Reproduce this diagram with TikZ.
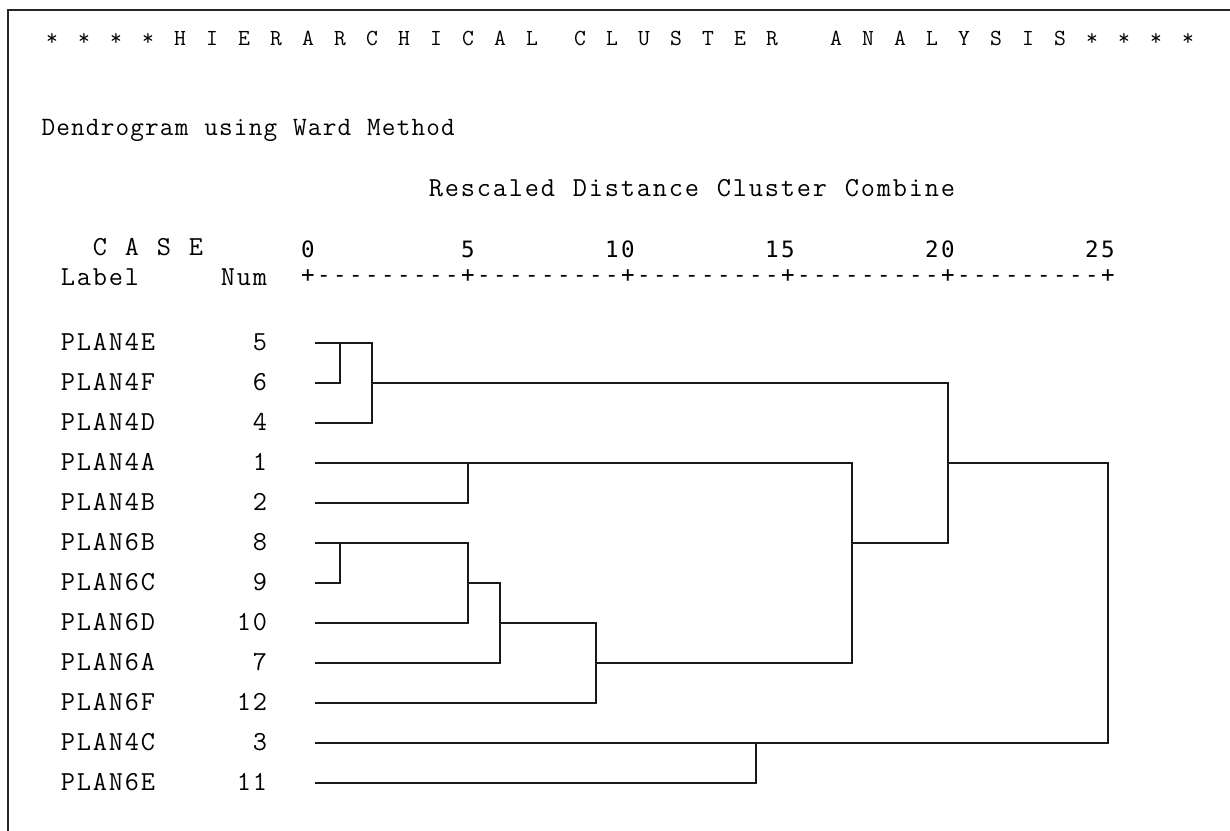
\documentclass[tikz,border=0pt]{standalone}
\usepackage{fontspec}
\newfontfamily\dvmono{DejaVu Sans Mono}
\ExplSyntaxOn
\cs_new_protected:Npn \mypitch_do:nn #1#2
 {
  \str_map_inline:nn {#2}
   {
    \str_if_eq:nnTF {##1}{|}
     { \makebox[#1]{} }
     { \makebox[#1][c]{##1} }
   }
 }
\cs_generate_variant:Nn \mypitch_do:nn {ne}
\NewDocumentCommand\pitched{O{16pt}m}{\mypitch_do:ne{#1}{#2}}
\ExplSyntaxOff
\begin{document}
\begin{tikzpicture}[x=1pt,y=-1pt,
  txt/.style={inner sep=0pt, outer sep=0pt},
  mono/.style={txt, font=\ttfamily\fontsize{27.5pt}{30pt}\selectfont},
  lbl/.style={mono, anchor=base west},
  numr/.style={mono, anchor=base east},
  titlef/.style={txt, anchor=base west, font=\ttfamily\fontsize{23pt}{24pt}\selectfont},
  dendf/.style={txt, anchor=base west, font=\ttfamily\fontsize{26.5pt}{28pt}\selectfont},
  scalef/.style={txt, font=\dvmono\fontsize{22.5pt}{26pt}\selectfont},
  frameline/.style={line width=2pt, black!85},
  link/.style={line width=2pt, line cap=rect, line join=miter, black!90}]
\useasboundingbox (0,0) rectangle (1230,830);
\fill[white] (0,0) rectangle (1230,830);
\draw[frameline] (8,840) -- (8,10) -- (1240,10);

% headings
\node[titlef] (title) at (44,45) {\pitched{* * * * H I E R A R C H I C A L| C L U S T E R|| A N A L Y S I S * * * *}};
\node[dendf] (dend) at (41,135) {\pitched[14.8pt]{Dendrogram using Ward Method}};
\node[lbl] (resc) at (428,196) {\pitched{Rescaled Distance Cluster Combine}};
\node[lbl] (case) at (92,255) {\pitched{C A S E}};
\node[lbl] (label) at (60,285) {\pitched{Label}};
\node[lbl] (numh) at (220,285) {\pitched{Num}};

% scale
\node[scalef, anchor=base east] (s0) at (316,257) {\pitched{0}};
\node[scalef, anchor=base east] (s5) at (476,257) {\pitched{5}};
\node[scalef, anchor=base east] (s10) at (636,257) {\pitched{10}};
\node[scalef, anchor=base east] (s15) at (796,257) {\pitched{15}};
\node[scalef, anchor=base east] (s20) at (956,257) {\pitched{20}};
\node[scalef, anchor=base east] (s25) at (1116,257) {\pitched{25}};
\node[scalef, anchor=base west] (ruler) at (300,282) {\pitched{+---------+---------+---------+---------+---------+}};

% rows
\foreach \lab/\n [count=\k from 0] in {PLAN4E/5,PLAN4F/6,PLAN4D/4,PLAN4A/1,PLAN4B/2,PLAN6B/8,PLAN6C/9,PLAN6D/10,PLAN6A/7,PLAN6F/12,PLAN4C/3,PLAN6E/11}{
  \node[lbl] (lab\k) at (60,{350+40*\k}) {\pitched{\lab}};
  \node[numr] (num\k) at (268,{350+40*\k}) {\pitched{\n}};
  \coordinate (leaf\k) at (316,{343+40*\k});
}

% junctions
\coordinate (A1) at (340,343);
\coordinate (A2t) at (372,343);
\coordinate (A2m) at (372,383);
\coordinate (A2b) at (372,423);
\coordinate (B1t) at (468,463);
\coordinate (C1t) at (340,543);
\coordinate (C2t) at (468,543);
\coordinate (C2m) at (468,583);
\coordinate (C2b) at (468,623);
\coordinate (C3t) at (500,583);
\coordinate (C3m) at (500,623);
\coordinate (C3b) at (500,663);
\coordinate (C4t) at (596,623);
\coordinate (C4m) at (596,663);
\coordinate (C4b) at (596,703);
\coordinate (D1t) at (852,463);
\coordinate (D1m) at (852,543);
\coordinate (D1b) at (852,663);
\coordinate (E1t) at (948,383);
\coordinate (E1m) at (948,463);
\coordinate (E1b) at (948,543);
\coordinate (F1t) at (1108,463);
\coordinate (F1b) at (1108,743);
\coordinate (G1t) at (756,743);

\draw[link] (leaf0) -- (A2t) -- (A2b) -- (leaf2);
\draw[link] (leaf1) -| (A1);
\draw[link] (A2m) -- (E1t) -- (E1b) -- (D1m);
\draw[link] (leaf3) -- (D1t) -- (D1b) -- (C4m);
\draw[link] (leaf4) -| (B1t);
\draw[link] (leaf5) -- (C2t) -- (C2b) -- (leaf7);
\draw[link] (leaf6) -| (C1t);
\draw[link] (C2m) -- (C3t) -- (C3b) -- (leaf8);
\draw[link] (C3m) -- (C4t) -- (C4b) -- (leaf9);
\draw[link] (E1m) -- (F1t) -- (F1b) -- (leaf10);
\draw[link] (leaf11) -| (G1t);
\end{tikzpicture}
\end{document}
